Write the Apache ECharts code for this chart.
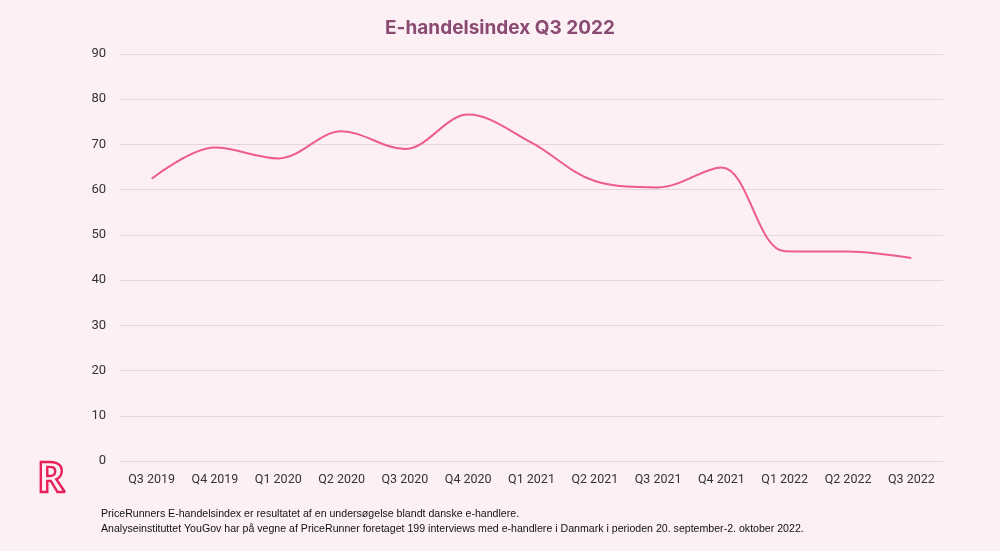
<!DOCTYPE html>
<html>
<head>
<meta charset="utf-8">
<script src="https://cdn.jsdelivr.net/npm/echarts@6/dist/echarts.min.js"></script>
<style>
html,body{margin:0;padding:0;background:#fcf0f5;}
#c{width:1000px;height:551px;}
</style>
</head>
<body>
<div id="c"></div>
<script>
const categories = ['Q3 2019','Q4 2019','Q1 2020','Q2 2020','Q3 2020','Q4 2020','Q1 2021','Q2 2021','Q3 2021','Q4 2021','Q1 2022','Q2 2022','Q3 2022'];
const indexValues = [62.4, 69.3, 66.9, 72.9, 69.0, 76.6, 70.4, 61.9, 60.5, 64.9, 46.4, 46.3, 44.9];
const yTicks = {min: 0, max: 90, interval: 10};
const titleText = 'E-handelsindex Q3 2022';
const footnote1 = 'PriceRunners E-handelsindex er resultatet af en undersøgelse blandt danske e-handlere.';
const footnote2 = 'Analyseinstituttet YouGov har på vegne af PriceRunner foretaget 199 interviews med e-handlere i Danmark i perioden 20. september-2. oktober 2022.';

const chart = echarts.init(document.getElementById('c'));
chart.setOption({
  backgroundColor: '#fcf0f5',
  title: {
    text: titleText,
    left: 'center',
    top: 14,
    textStyle: {color: '#8a4a72', fontSize: 19, fontWeight: 'bold', fontFamily: 'Inter'}
  },
  grid: {left: 120, right: 57, top: 54, bottom: 90, containLabel: false},
  xAxis: {
    type: 'category',
    data: categories,
    boundaryGap: true,
    axisLine: {lineStyle: {color: '#e8d3de'}},
    axisTick: {show: false},
    axisLabel: {color: '#333', fontSize: 12.5, fontFamily: 'Roboto', margin: 12, interval: 0, hideOverlap: false}
  },
  yAxis: {
    type: 'value',
    min: yTicks.min, max: yTicks.max, interval: yTicks.interval,
    axisLine: {show: false},
    axisTick: {show: false},
    splitLine: {lineStyle: {color: '#e8d3de', width: 1}},
    axisLabel: {color: '#333', fontSize: 13, fontFamily: 'Roboto', margin: 14}
  },
  series: [{
    type: 'line',
    data: indexValues,
    smooth: 0.35,
    symbol: 'none',
    lineStyle: {color: '#ee5b8e', width: 2}
  }],
  graphic: [
    {type: 'text', left: 101, top: 509, style: {text: footnote1, fill: '#111', font: '10.6px "Liberation Sans", sans-serif'}},
    {type: 'text', left: 101, top: 524, style: {text: footnote2, fill: '#111', font: '10.6px "Liberation Sans", sans-serif'}},
    {type: 'text', left: 36, top: 458, style: {text: 'R', fill: 'transparent', stroke: '#e8215a', lineWidth: 2.4, font: 'bold 42px "Noto Sans", sans-serif'}}
  ]
});
</script>
</body>
</html>
